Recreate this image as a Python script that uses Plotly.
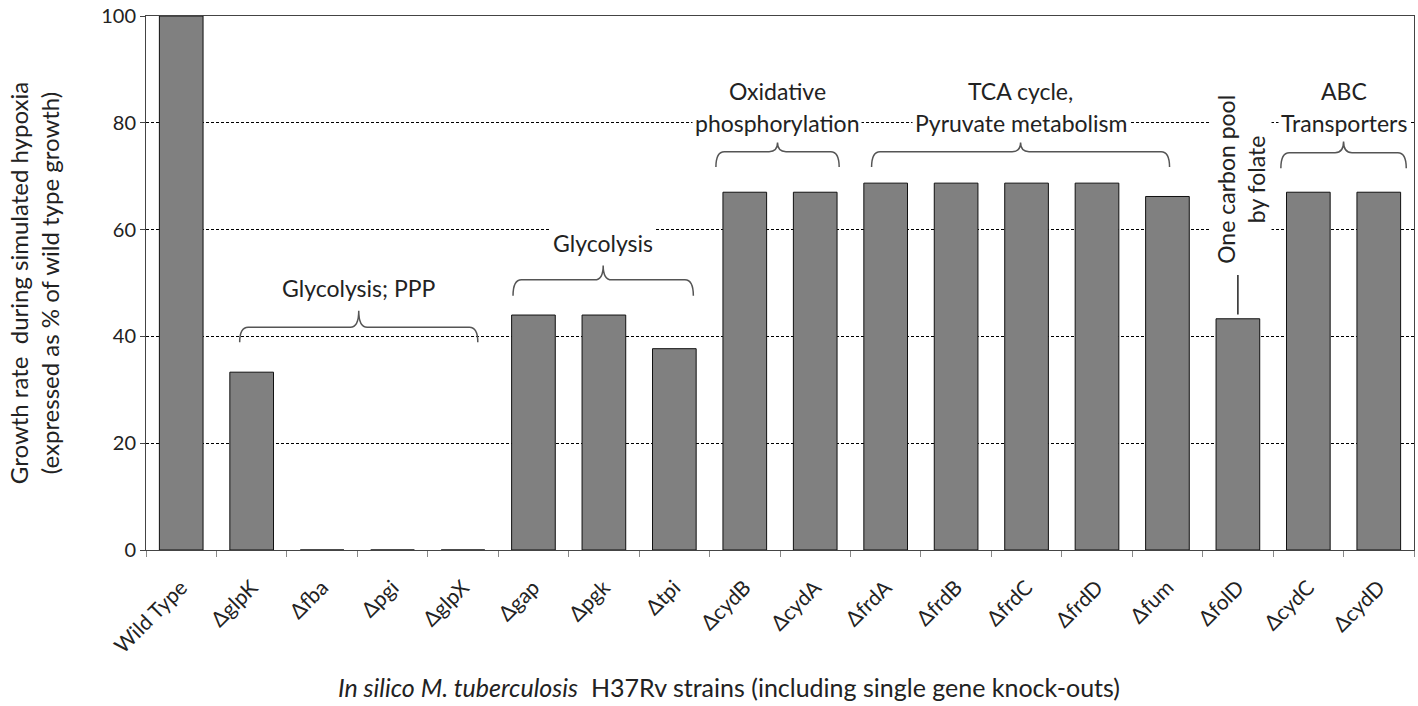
import plotly.graph_objects as go

strains = ["Wild Type", "ΔglpK", "Δfba", "Δpgi", "ΔglpX", "Δgap", "Δpgk", "Δtpi",
           "ΔcydB", "ΔcydA", "ΔfrdA", "ΔfrdB", "ΔfrdC", "ΔfrdD", "Δfum", "ΔfolD",
           "ΔcydC", "ΔcydD"]
growth = [100, 33.3, 0, 0, 0, 44.0, 44.0, 37.7,
          67.0, 67.0, 68.7, 68.7, 68.7, 68.7, 66.2, 43.3,
          67.0, 67.0]
y_ticks = [0, 20, 40, 60, 80, 100]

FONT = "Lato, 'Open Sans', sans-serif"
TXT = "#222222"
ANN = 23

idx = list(range(len(strains)))

fig = go.Figure()
fig.add_trace(go.Bar(
    x=idx, y=growth, width=0.62,
    marker=dict(color="#808080", line=dict(color="#111111", width=1)),
    hoverinfo="x+y", showlegend=False,
))

def brace(x0, x1, ytip, yline, ypeak):
    xc = (x0 + x1) / 2
    d = 0.12
    return (f"M {x0},{ytip} Q {x0},{yline} {x0+d},{yline} "
            f"L {xc-d},{yline} Q {xc},{yline} {xc},{ypeak} "
            f"Q {xc},{yline} {xc+d},{yline} L {x1-d},{yline} "
            f"Q {x1},{yline} {x1},{ytip}")

braces = [
    (0.83, 4.21, 38.9, 41.7, 44.8),
    (4.71, 7.27, 47.6, 50.6, 53.3),
    (7.59, 9.34, 71.7, 74.6, 76.3),
    (9.80, 14.03, 71.7, 74.6, 76.3),
    (15.61, 17.39, 71.5, 74.4, 76.5),
]
for b in braces:
    fig.add_shape(type="path", path=brace(*b), xref="x", yref="y",
                  line=dict(color="#555555", width=1.5))

# line from folD bar to rotated label
fig.add_shape(type="line", x0=15, x1=15, y0=44.1, y1=51.5, xref="x", yref="y",
              line=dict(color="#222222", width=1.5))

labels = [
    (2.52, 49.1, "Glycolysis; PPP"),
    (5.99, 57.4, "Glycolysis"),
    (8.46, 85.9, "Oxidative"),
    (8.46, 80.0, "phosphorylation"),
    (11.92, 85.9, "TCA cycle,"),
    (11.92, 80.0, "Pyruvate metabolism"),
    (16.5, 85.9, "ABC"),
    (16.5, 80.0, "Transporters"),
]
for x, y, t in labels:
    fig.add_annotation(x=x, y=y, xref="x", yref="y", text=t, showarrow=False,
                       font=dict(family=FONT, size=ANN, color=TXT),
                       bgcolor="white", borderpad=2)

fig.add_annotation(x=15.05, y=69.4, xref="x", yref="y",
                   text="One carbon pool<br>by folate", showarrow=False,
                   textangle=-90, font=dict(family=FONT, size=ANN, color=TXT),
                   bgcolor="white", borderpad=1)

fig.add_annotation(x=0.46, y=-0.256, xref="paper", yref="paper",
                   text="<i>In silico M. tuberculosis</i>  H37Rv strains (including single gene knock-outs)",
                   showarrow=False, font=dict(family=FONT, size=25, color=TXT),
                   yanchor="middle")

fig.update_layout(
    width=1418, height=706,
    margin=dict(l=146, r=3, t=10, b=156),
    paper_bgcolor="white", plot_bgcolor="white",
    font=dict(family=FONT, color=TXT),
    bargap=0.38,
)
fig.update_xaxes(
    range=[-0.5, 17.5],
    tickmode="array", tickvals=idx, ticktext=strains, tickangle=-45,
    tickfont=dict(family=FONT, size=21, color=TXT),
    ticks="", ticklabelstandoff=16, showgrid=False, zeroline=False,
    showline=True, linecolor="#444444", linewidth=1, mirror=True,
    minor=dict(tickmode="linear", tick0=0.5, dtick=1, ticks="outside",
               ticklen=6, tickcolor="#888888", showgrid=False),
)
fig.update_yaxes(
    range=[0, 100], tickmode="array", tickvals=y_ticks,
    tickfont=dict(family=FONT, size=20, color=TXT),
    ticks="outside", ticklen=5, tickcolor="#444444",
    ticklabeloverflow="allow",
    showgrid=True, gridcolor="#000000", gridwidth=1, griddash="3px,2px",
    zeroline=False,
    showline=True, linecolor="#444444", linewidth=1, mirror=True,
    title=dict(text="Growth rate  during simulated hypoxia<br>(expressed as % of wild type growth)",
               font=dict(family=FONT, size=24, color=TXT), standoff=34),
)

fig.write_html("out.html", config={"displayModeBar": False},
               post_script="document.body.style.margin='0';")
